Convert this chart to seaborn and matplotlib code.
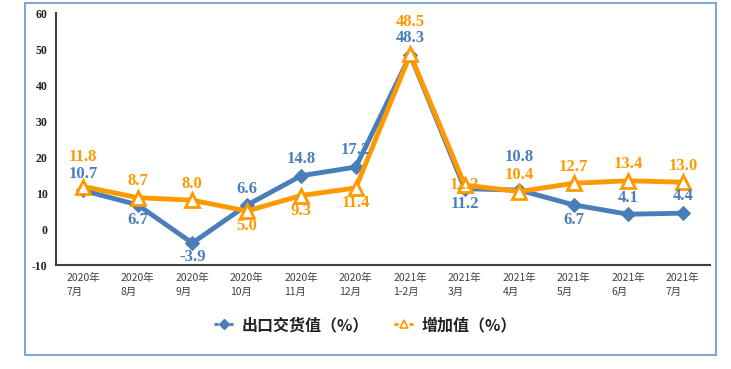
import matplotlib
matplotlib.use("Agg")
import matplotlib.pyplot as plt
import seaborn as sns
import pandas as pd
from matplotlib.lines import Line2D
from matplotlib.patches import Rectangle

categories = ["2020年\n7月", "2020年\n8月", "2020年\n9月", "2020年\n10月", "2020年\n11月", "2020年\n12月",
              "2021年\n1-2月", "2021年\n3月", "2021年\n4月", "2021年\n5月", "2021年\n6月", "2021年\n7月"]
export_vals = [10.7, 6.7, -3.9, 6.6, 14.8, 17.2, 48.3, 11.2, 10.8, 6.7, 4.1, 4.4]
added_vals = [11.8, 8.7, 8.0, 5.0, 9.3, 11.4, 48.5, 12.2, 10.4, 12.7, 13.4, 13.0]
export_name = "出口交货值（%）"
added_name = "增加值（%）"
yticks = [-10, 0, 10, 20, 30, 40, 50, 60]

# label offsets in points (style)
export_off = [12, -11, -10, 12, 12, 12, 12, -11, 24, -11, 12, 12]
added_off = [21, 12, 12, -11, -11, -11, 23, 0, 12, 12, 12, 12]

sns.set_theme(style="white")
plt.rcParams['font.family'] = ['Noto Sans CJK SC', 'DejaVu Sans']

BLUE = "#4A7EBB"
ORANGE = "#FF9900"

fig = plt.figure(figsize=(7.31, 3.69), dpi=100)
ax = fig.add_axes([56/731, 1-265/369, (710-56)/731, (265-13)/369])

idx = list(range(len(categories)))
df = pd.DataFrame({"x": idx, "export": export_vals, "added": added_vals})

sns.lineplot(data=df, x="x", y="export", ax=ax, color=BLUE, lw=3.5, marker="D",
             markersize=7, markeredgecolor=BLUE, markerfacecolor=BLUE, zorder=3)
sns.lineplot(data=df, x="x", y="added", ax=ax, color=ORANGE, lw=3.5, marker="^",
             markersize=10, markerfacecolor="white", markeredgecolor=ORANGE, markeredgewidth=2, zorder=4)

num_font = dict(family="Liberation Serif", size=12, weight="bold")
for i, (v, o) in enumerate(zip(export_vals, export_off)):
    ax.annotate(f"{v:.1f}", (i, v), xytext=(0, o), textcoords="offset points",
                ha="center", va="center", color=BLUE, zorder=6, **num_font)
for i, (v, o) in enumerate(zip(added_vals, added_off)):
    ax.annotate(f"{v:.1f}", (i, v), xytext=(0, o), textcoords="offset points",
                ha="center", va="center", color=ORANGE, zorder=6, **num_font)

ax.set_xlim(-0.5, len(categories) - 0.5)
ax.set_ylim(-10, 60)
ax.set_yticks(yticks)
ax.set_yticklabels([str(t) for t in yticks], fontfamily="Liberation Serif", fontweight="bold", fontsize=8.5, color="#222222")
ax.set_xticks(idx)
ax.set_xticklabels(categories, fontsize=7.5, color="#404040", multialignment="left", linespacing=1.5)
ax.tick_params(axis="both", length=0, pad=6)
ax.set_xlabel("")
ax.set_ylabel("")
for s in ["top", "right"]:
    ax.spines[s].set_visible(False)
for s in ["left", "bottom"]:
    ax.spines[s].set_color("#404040")
    ax.spines[s].set_linewidth(1.5)
ax.grid(False)

handles = [
    Line2D([0], [0], color=BLUE, lw=2, ls=(0, (1.5, 1.2)), marker="D", markersize=5),
    Line2D([0], [0], color=ORANGE, lw=2, ls=(0, (1.5, 1.2)), marker="^", markersize=6,
           markerfacecolor="white", markeredgecolor=ORANGE, markeredgewidth=1.2),
]
leg = fig.legend(handles, [export_name, added_name], loc="center", bbox_to_anchor=(0.5, 1-325/369),
                 ncol=2, frameon=False, fontsize=11.5, handlelength=1.2, columnspacing=1.6, handletextpad=0.5)
for t in leg.get_texts():
    t.set_fontweight("bold")
    t.set_color("#222222")

fig.patches.append(Rectangle((25/731, 1-355/369), (716-25)/731, (355-3)/369, transform=fig.transFigure,
                             fill=False, edgecolor="#7EA6D6", lw=1.5, zorder=0))

fig.savefig("out.png", dpi=100)
